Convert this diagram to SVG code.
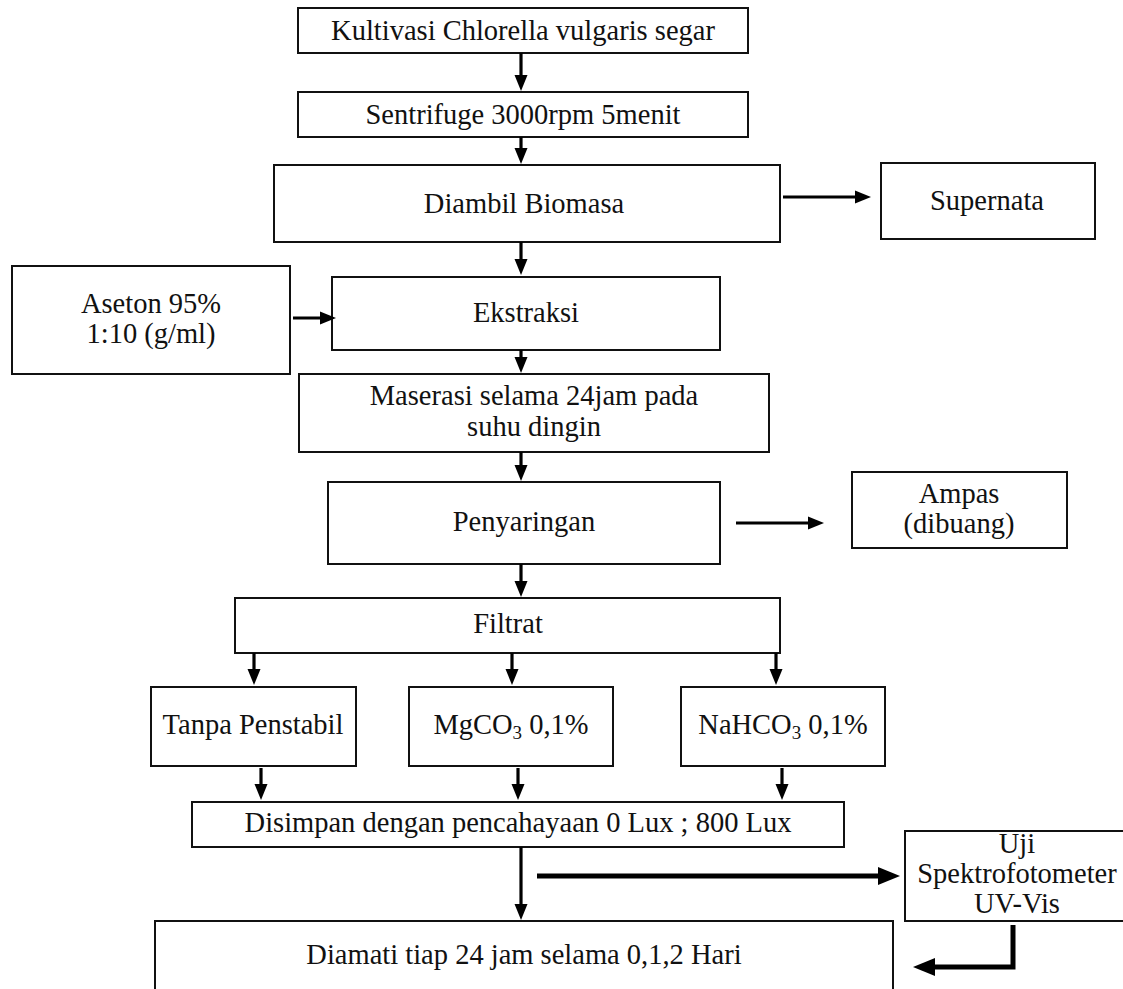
<svg xmlns="http://www.w3.org/2000/svg" width="1123" height="989" viewBox="0 0 1123 989">
<style>
.box{fill:#fff;stroke:#111;stroke-width:2}
.t{font-family:"Liberation Serif","Times New Roman",serif;font-size:28.5px;fill:#111;text-anchor:middle}
.c{fill:none;stroke:#000;stroke-width:3.2}
.k{fill:none;stroke:#000;stroke-width:5}
</style>
<defs>
<marker id="ah" markerUnits="userSpaceOnUse" markerWidth="16" markerHeight="14" refX="6" refY="7" orient="auto">
<path d="M0,0.5 L16,7 L0,13.5 z" fill="#000"/>
</marker>
<marker id="ahb" markerUnits="userSpaceOnUse" markerWidth="22" markerHeight="18" refX="8" refY="9" orient="auto">
<path d="M0,0 L22,9 L0,18 z" fill="#000"/>
</marker>
</defs>
<rect width="1123" height="989" fill="#fff"/>

<g id="n1"><rect class="box" x="298" y="8" width="450" height="45"/><text class="t" x="523" y="40">Kultivasi Chlorella vulgaris segar</text></g>
<g id="n2"><rect class="box" x="298" y="92" width="450" height="45"/><text class="t" x="523" y="124">Sentrifuge 3000rpm 5menit</text></g>
<g id="n3"><rect class="box" x="274" y="165" width="506" height="77"/><text class="t" x="524" y="213">Diambil Biomasa</text></g>
<g id="n4"><rect class="box" x="881" y="163" width="214" height="76"/><text class="t" x="987" y="210">Supernata</text></g>
<g id="n5"><rect class="box" x="12" y="266" width="278" height="108"/><text class="t" x="151" y="313">Aseton 95%</text><text class="t" x="151" y="343">1:10 (g/ml)</text></g>
<g id="n6"><rect class="box" x="332" y="277" width="388" height="73"/><text class="t" x="526" y="322">Ekstraksi</text></g>
<g id="n7"><rect class="box" x="299" y="374" width="470" height="78"/><text class="t" x="534" y="405">Maserasi selama 24jam pada</text><text class="t" x="534" y="436">suhu dingin</text></g>
<g id="n8"><rect class="box" x="328" y="482" width="392" height="82"/><text class="t" x="524" y="531">Penyaringan</text></g>
<g id="n9"><rect class="box" x="852" y="472" width="215" height="76"/><text class="t" x="959" y="503">Ampas</text><text class="t" x="959" y="533">(dibuang)</text></g>
<g id="n10"><rect class="box" x="235" y="598" width="545" height="55"/><text class="t" x="508" y="633">Filtrat</text></g>
<g id="n11"><rect class="box" x="151" y="687" width="205" height="79"/><text class="t" x="253" y="734">Tanpa Penstabil</text></g>
<g id="n12"><rect class="box" x="409" y="687" width="204" height="79"/><text class="t" x="511" y="734">MgCO<tspan font-size="19" dy="5">3</tspan><tspan dy="-5"> 0,1%</tspan></text></g>
<g id="n13"><rect class="box" x="681" y="687" width="204" height="79"/><text class="t" x="783" y="734">NaHCO<tspan font-size="19" dy="5">3</tspan><tspan dy="-5"> 0,1%</tspan></text></g>
<g id="n14"><rect class="box" x="192" y="802" width="652" height="45"/><text class="t" x="518" y="832">Disimpan dengan pencahayaan 0 Lux ; 800 Lux</text></g>
<g id="n15"><rect class="box" x="905" y="831" width="225" height="90"/><text class="t" x="1017" y="853">Uji</text><text class="t" x="1017" y="883">Spektrofotometer</text><text class="t" x="1017" y="913">UV-Vis</text></g>
<g id="n16"><rect class="box" x="155" y="921" width="738" height="80"/><text class="t" x="524" y="964">Diamati tiap 24 jam selama 0,1,2 Hari</text></g>

<g id="connectors">
<line class="c" x1="521" y1="53" x2="521" y2="81" marker-end="url(#ah)"/>
<line class="c" x1="521" y1="137" x2="521" y2="154" marker-end="url(#ah)"/>
<line class="c" x1="521" y1="242" x2="521" y2="265" marker-end="url(#ah)"/>
<line class="c" x1="783" y1="197" x2="861" y2="197" marker-end="url(#ah)"/>
<line class="c" x1="293" y1="318" x2="326" y2="318" marker-end="url(#ah)"/>
<line class="c" x1="521" y1="350" x2="521" y2="363" marker-end="url(#ah)"/>
<line class="c" x1="521" y1="452" x2="521" y2="471" marker-end="url(#ah)"/>
<line class="c" x1="736" y1="523" x2="814" y2="523" marker-end="url(#ah)"/>
<line class="c" x1="521" y1="564" x2="521" y2="587" marker-end="url(#ah)"/>
<line class="c" x1="254" y1="653" x2="254" y2="675" marker-end="url(#ah)"/>
<line class="c" x1="512" y1="653" x2="512" y2="675" marker-end="url(#ah)"/>
<line class="c" x1="776" y1="653" x2="776" y2="675" marker-end="url(#ah)"/>
<line class="c" x1="261" y1="768" x2="261" y2="790" marker-end="url(#ah)"/>
<line class="c" x1="518" y1="768" x2="518" y2="790" marker-end="url(#ah)"/>
<line class="c" x1="782" y1="768" x2="782" y2="790" marker-end="url(#ah)"/>
<line class="c" x1="521" y1="847" x2="521" y2="910" marker-end="url(#ah)"/>
<line class="k" x1="537" y1="876" x2="886" y2="876" marker-end="url(#ahb)"/>
<polyline class="k" points="1013,925 1013,967 927,967" marker-end="url(#ahb)"/>
</g>
</svg>
